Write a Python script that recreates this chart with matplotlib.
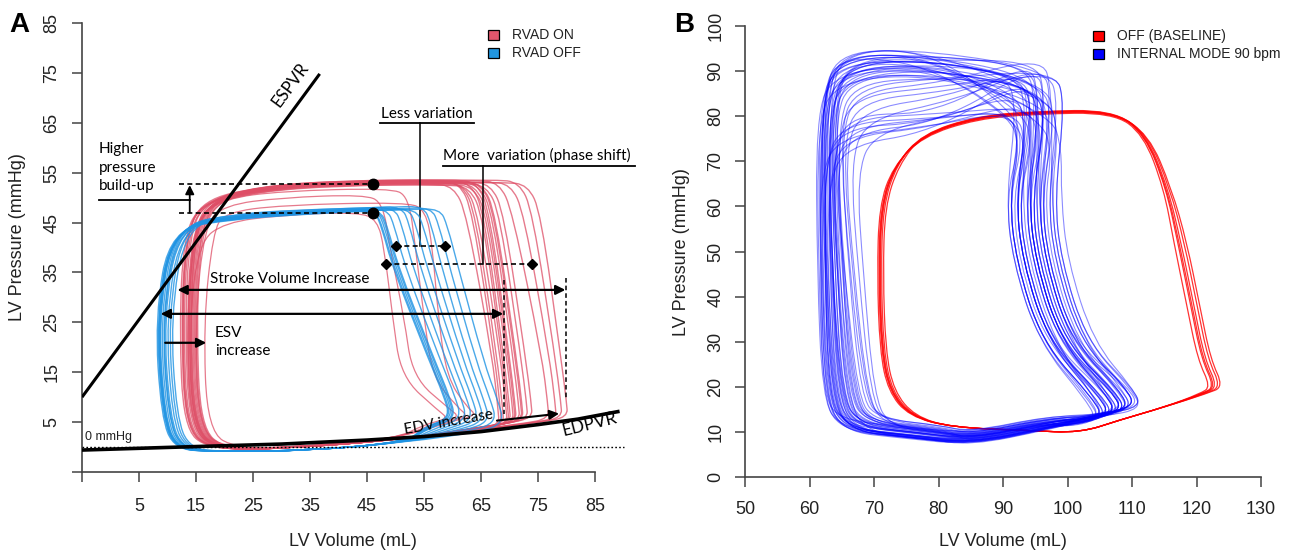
import numpy as np
import matplotlib
matplotlib.use('Agg')
import matplotlib.pyplot as plt
from matplotlib.path import Path
from matplotlib.patches import PathPatch, Rectangle

# ---------------- DATA ----------------
# Panel A ticks
a_xticks = [-5, 5, 15, 25, 35, 45, 55, 65, 75, 85]
a_xlabels = ['', '5', '15', '25', '35', '45', '55', '65', '75', '85']
a_yticks = [-5, 5, 15, 25, 35, 45, 55, 65, 75, 85]
a_ylabels = ['', '5', '15', '25', '35', '45', '55', '65', '75', '85']

# ESPVR straight line end points (volume, pressure)
espvr_v = [-5, 36.7]
espvr_p = [10, 74.8]
# EDPVR curve points
edpvr_v = [-5, 15, 30, 45, 55, 65, 75, 82, 89]
edpvr_p = [-0.6, 0.1, 0.6, 1.4, 2.1, 3.1, 4.5, 5.6, 7.1]

# RVAD ON loops: left side volume, top pressure, top-right volume, bottom-right volume, bottom-right pressure
on_L = [12.6, 13.0, 13.3, 13.6, 13.9, 14.2, 14.5, 14.8, 15.2, 13.1, 14.0, 15.6, 12.9, 14.4, 14.6, 15.0, 15.4, 14.2]
on_T = [52.6, 53.0, 52.8, 53.2, 52.5, 53.4, 52.9, 53.1, 52.7, 53.3, 52.4, 53.0, 52.8, 53.1, 53.3, 53.0, 53.4, 52.9]
on_R1 = [59.0, 60.5, 61.0, 62.0, 62.5, 63.0, 63.5, 64.0, 64.8, 60.0, 61.8, 65.5, 62.8, 63.8, 67.0, 69.0, 70.5, 72.0]
on_R2 = [67.8, 68.6, 69.2, 69.8, 70.3, 70.8, 71.4, 72.0, 72.8, 68.2, 69.5, 73.6, 70.6, 71.8, 76.5, 77.8, 78.8, 79.8]
on_B = [5.0, 5.2, 5.3, 5.5, 5.6, 5.8, 5.9, 6.0, 6.2, 5.1, 5.4, 6.4, 5.7, 6.0, 6.3, 6.4, 6.5, 6.6]

# RVAD ON loops with early ejection end (phase shift)
sh_L = [14.0, 15.0, 13.5, 16.5]
sh_T = [47.0, 50.5, 51.8, 49.0]
sh_R1 = [46.5, 47.5, 52.0, 55.0]
sh_Xm = [50.0, 52.0, 55.5, 58.0]
sh_R2 = [59.0, 61.0, 62.5, 64.0]
sh_B = [6.5, 6.8, 7.0, 7.2]

# RVAD OFF loops
off_L = [8.7, 9.0, 9.3, 9.6, 9.9, 10.2, 10.6, 11.0, 11.4, 9.2, 10.0, 8.9, 9.1]
off_T = [47.0, 47.2, 47.4, 47.6, 47.8, 47.5, 47.3, 47.9, 47.6, 47.1, 47.4, 46.9, 47.1]
off_R1 = [46.0, 47.0, 48.2, 49.5, 50.8, 52.0, 53.3, 54.6, 56.0, 46.5, 57.5, 46.2, 46.8]
off_R2 = [59.0, 60.0, 61.0, 62.0, 63.0, 64.0, 65.0, 66.0, 67.2, 59.5, 68.5, 59.2, 59.8]
off_B = [7.0, 6.9, 6.8, 6.7, 6.6, 6.5, 6.4, 6.3, 6.2, 7.0, 6.0, 7.0, 6.9]

# Panel B ticks
b_xticks = [50, 60, 70, 80, 90, 100, 110, 120, 130]
b_yticks = [0, 10, 20, 30, 40, 50, 60, 70, 80, 90, 100]

# OFF (BASELINE) loops: left side volume, end tip volume, top pressure
rb_L = [70.6, 70.9, 71.2, 71.5, 70.8, 71.0]
rb_R2 = [122.2, 122.8, 123.3, 123.8, 124.2, 123.0]
rb_T = [80.2, 80.5, 80.8, 80.6, 80.4, 80.7]

# INTERNAL MODE 90 bpm loops
bb_L = [61.2, 61.6, 62.0, 62.3, 62.6, 62.9, 63.2, 63.5, 63.8, 64.1, 64.5, 65.0, 65.6, 61.8, 62.4, 63.0, 63.6, 64.2, 62.1, 62.7,
        63.3, 63.9, 61.4, 62.2, 62.8, 63.4, 64.0, 64.8, 62.5, 63.1, 63.7, 61.9, 62.6, 63.2, 64.4, 62.0, 63.0, 63.8, 62.3, 65.3,
        66.5, 67.5, 62.0, 63.5]
bb_Lb = [62.0, 62.5, 63.5, 64.0, 63.0, 65.0, 64.5, 66.0, 65.5, 67.0, 66.5, 68.0, 69.0, 62.8, 63.6, 64.8, 65.8, 67.5, 62.6, 63.8,
         64.6, 66.2, 62.2, 63.2, 64.2, 65.2, 66.8, 68.5, 63.4, 64.4, 65.6, 62.4, 63.0, 64.0, 67.2, 62.9, 64.9, 66.4, 63.7, 68.8,
         69.5, 70.0, 62.1, 65.1]
bb_Tl = [88, 90, 91, 92, 89, 87, 93, 90, 88, 91, 86, 84, 80, 74, 76, 72, 78, 75, 92, 90,
         89, 91, 86, 88, 93, 90, 87, 85, 77, 74, 79, 90, 92, 88, 83, 91, 89, 76, 93, 82,
         78, 75, 92, 87]
bb_Tm = [91, 92, 93, 93, 90, 89, 94, 92, 90, 92, 88, 87, 84, 77, 78, 76, 80, 78, 93, 91,
         91, 93, 89, 90, 94, 92, 89, 88, 79, 77, 80, 92, 93, 91, 86, 93, 91, 79, 94, 85,
         83, 80, 91, 90]
bb_Tr = [84, 88, 80, 90, 85, 82, 89, 87, 78, 91, 86, 92, 88, 80, 84, 87, 81, 90, 86, 79,
         88, 90, 82, 85, 80, 86, 83, 89, 80, 82, 91, 87, 78, 84, 88, 88, 85, 80, 83, 89,
         90, 86, 79, 85]
bb_R1 = [92, 93, 94, 95, 96, 97, 98, 94, 93, 96, 95, 97, 91.5, 92, 93, 94, 95, 96, 97.5, 98.5,
         93.5, 94.5, 95.5, 96.5, 92.5, 97, 98, 99, 93, 94, 95, 96, 97, 93, 94, 95, 96, 92, 98, 99,
         97, 95, 92, 94]
bb_Rm = [91, 93, 92.5, 95.5, 94.5, 96, 97, 92.5, 92, 95, 93.5, 97.5, 90.5, 91, 92, 94, 93.5, 95.5, 96, 99,
         92, 94, 94, 96, 91, 95.5, 97.5, 98, 91.5, 92.5, 95, 94.5, 96.5, 92, 92, 94, 94.5, 90.5, 97, 98,
         95.5, 94, 91, 93.5]
bb_R2 = [104.5, 105, 106, 107, 108, 109, 110, 106, 105.5, 108.5, 107.5, 109.5, 104, 105, 106.5, 107, 108, 109, 110.5, 111,
         106, 107, 108, 109, 105, 109.5, 110, 111, 106, 107, 108, 108.5, 109, 105.5, 106.5, 107.5, 108.5, 104.5, 110, 111,
         110, 108, 105, 107]
bb_P2 = [13.5, 14, 14.5, 15, 15.5, 15, 16, 14, 13.5, 15, 14.5, 15.5, 13, 13.5, 14, 14.5, 15, 15.5, 16, 16,
         14, 14.5, 15, 15.5, 13.5, 15.5, 16, 16, 14, 14.5, 15, 15, 15.5, 13.5, 14, 14.5, 15, 13, 16, 15.5,
         16, 15, 13.5, 14.5]
bb_Bm = [9.5, 9, 8.8, 9.2, 10, 10.5, 9, 8.5, 9.8, 10.2, 11, 11.5, 10, 9.3, 8.7, 9.6, 10.4, 11, 8.6, 9.1,
         9.9, 10.7, 11.2, 9.4, 8.9, 10.1, 10.8, 11.4, 9.2, 9.7, 10.3, 8.8, 9.5, 10, 10.6, 9, 9.8, 10.5, 8.7, 11,
         10, 9.5, 9, 10.2]

# ---------------- FIGURE ----------------
W, H = 1294, 552
fig = plt.figure(figsize=(W / 100, H / 100), dpi=100)
TICKFONT = 'Liberation Sans'
NOTEFONT = 'Lato'
plt.rcParams['font.family'] = [TICKFONT, 'DejaVu Sans']


def fx(px):
    return px / W


def fy(py):
    return 1 - py / H


def smooth_loop(ax, verts, color, lw, alpha, z=2):
    v = np.asarray(verts, dtype=float)
    mids = (v + np.roll(v, -1, axis=0)) / 2
    pts = [mids[-1]]
    codes = [Path.MOVETO]
    for i in range(len(v)):
        pts += [v[i], mids[i]]
        codes += [Path.CURVE3, Path.CURVE3]
    ax.add_patch(PathPatch(Path(pts, codes), fill=False, ec=color, lw=lw, alpha=alpha, zorder=z))


def style(ax, xt, xl, yt, yl, xpad, ypad):
    for s in ['top', 'right']:
        ax.spines[s].set_visible(False)
    for s in ['left', 'bottom']:
        ax.spines[s].set_color('#444444')
        ax.spines[s].set_linewidth(1.2)
    ax.spines['left'].set_bounds(yt[0], yt[-1])
    ax.spines['bottom'].set_bounds(xt[0], xt[-1])
    ax.set_xticks(xt)
    ax.set_xticklabels(xl)
    ax.set_yticks(yt)
    ax.set_yticklabels(yl, rotation=90, va='center')
    ax.tick_params(axis='both', direction='out', length=7.5, width=1.1, color='#444444',
                   labelsize=13, labelcolor='#222222')
    ax.tick_params(axis='x', pad=xpad)
    ax.tick_params(axis='y', pad=ypad)
    ax.patch.set_visible(False)


# ---------- Panel A ----------
axA = fig.add_axes([fx(82), fy(472), (650 - 82) / W, (472 - 3) / H])
axA.set_xlim(-5, -5 + (650 - 82) / 5.7)
axA.set_ylim(-5, -5 + (472 - 3) / 4.989)
style(axA, a_xticks, a_xlabels, a_yticks, a_ylabels, 11, 8)

RED_A = '#DE4E66'
BLUE_A = '#1E93E3'


def on_verts(L, T, R1, R2, B):
    return [(R2 + 0.4, B - 0.6), (R2 + 0.2, B + 2.5), (R2 - 0.8, 18), (R1 + 3.5, T - 6),
            (R1 + 1.2, T - 0.3), (R1 - 3, T + 0.2), (40, T), (26, T - 1.2), (L + 3, T - 3.8),
            (L + 0.2, T - 11), (L - 0.5, 24), (L + 0.2, 4), (L + 4.5, -0.5), (30, -0.3),
            (50, 1.4), (R2 - 4, B - 1.6)]


def shift_verts(L, T, R1, Xm, R2, B):
    return [(R2 + 0.3, B - 0.8), (R2 - 1.5, B + 0.8), (Xm + 1.0, 14), (Xm - 0.5, 26),
            (R1 + 1.5, 40), (R1 + 0.3, T - 1.5), (R1 - 3, T + 0.1), (30, T - 0.5), (20, T - 2),
            (L + 1.5, T - 6), (L - 0.2, 25), (L + 0.5, 3), (L + 6, -0.4), (32, 0), (50, 1.6),
            (R2 - 4, B - 2)]


def off_verts(L, T, R1, R2, B):
    return [(R2 + 0.6, B - 1.2), (R2 - 0.6, B + 3.5), (R2 - 3.0, 17), (R1 + 3.5, 36),
            (R1 + 1.6, T - 3), (R1 + 0.3, T + 0.4), (R1 - 5, T + 0.2), (32, T - 0.4),
            (22, T - 1.2), (L + 1.8, T - 3.2), (L - 0.9, 26), (L + 0.2, 6), (L + 2.5, -0.4),
            (L + 9, -0.9), (35, -0.7), (52, 1.0), (R2 - 4, B - 3.0)]


for i in range(len(on_L)):
    smooth_loop(axA, on_verts(on_L[i], on_T[i], on_R1[i], on_R2[i], on_B[i]), RED_A, 1.0, 0.75)
for i in range(len(sh_L)):
    smooth_loop(axA, shift_verts(sh_L[i], sh_T[i], sh_R1[i], sh_Xm[i], sh_R2[i], sh_B[i]), RED_A, 0.9, 0.75)
for i in range(len(off_L)):
    smooth_loop(axA, off_verts(off_L[i], off_T[i], off_R1[i], off_R2[i], off_B[i]), BLUE_A, 1.0, 0.8, z=3)

# ESPVR / EDPVR / 0 mmHg
axA.plot(espvr_v, espvr_p, color='k', lw=2.2, zorder=5, solid_capstyle='butt')
axA.plot(edpvr_v, edpvr_p, color='k', lw=2.6, zorder=5)
axA.plot([-5, 90], [0, 0], color='k', lw=1.0, ls=(0, (1.2, 1.6)), zorder=4)
axA.text(-4.5, 0.9, '0 mmHg', fontsize=9, ha='left', va='bottom', color='#222222')
axA.text(31.6, 72.6, 'ESPVR', fontsize=12, rotation=53.6, ha='center', va='center', family=NOTEFONT)
axA.text(84.0, 4.6, 'EDPVR', fontsize=12.5, rotation=14, ha='center', va='center', family=NOTEFONT)

DASH = (0, (3, 2))
# Higher pressure build-up
axA.plot([12.1, 46], [52.65, 52.65], color='k', lw=1.2, ls=DASH, zorder=6)
axA.plot([12.1, 46], [47.0, 47.0], color='k', lw=1.2, ls=DASH, zorder=6)
axA.plot([46, 46], [52.65, 47.0], 'o', color='k', ms=7.5, zorder=7)
axA.plot([-2.0, 13.9], [49.6, 49.6], color='k', lw=1.3, zorder=6)
axA.annotate('', xy=(13.9, 52.5), xytext=(13.9, 47.0),
             arrowprops=dict(arrowstyle='-|>', lw=1.3, color='k', mutation_scale=13,
                             shrinkA=0, shrinkB=0), zorder=6)
axA.text(-2.1, 56.0, 'Higher\npressure\nbuild-up', fontsize=11, ha='left', va='center',
         linespacing=1.4, family=NOTEFONT)

# Less variation
axA.text(55.5, 66.7, 'Less variation', fontsize=11, ha='center', va='center', family=NOTEFONT)
axA.plot([47.2, 63.8], [64.9, 64.9], color='k', lw=1.3)
axA.plot([54.3, 54.3], [64.9, 40.2], color='k', lw=1.1)
axA.plot([50.1, 58.7], [40.2, 40.2], color='k', lw=1.2, ls=DASH, zorder=6)
axA.plot([50.1, 58.7], [40.2, 40.2], 'D', color='k', ms=5.5, zorder=7)

# More variation
axA.text(58.3, 58.5, 'More  variation (phase shift)', fontsize=11, ha='left', va='center',
         family=NOTEFONT)
axA.plot([58.3, 92.0], [56.3, 56.3], color='k', lw=1.3)
axA.plot([65.4, 65.4], [56.3, 36.6], color='k', lw=1.1)
axA.plot([48.4, 74.0], [36.6, 36.6], color='k', lw=1.2, ls=DASH, zorder=6)
axA.plot([48.4, 74.0], [36.6, 36.6], 'D', color='k', ms=5.5, zorder=7)

# Stroke volume increase arrows
axA.text(31.5, 33.6, 'Stroke Volume Increase', fontsize=11, ha='center', va='center',
         family=NOTEFONT)
axA.annotate('', xy=(11.75, 31.5), xytext=(79.8, 31.5),
             arrowprops=dict(arrowstyle='<|-|>', lw=1.6, color='k', mutation_scale=14,
                             shrinkA=0, shrinkB=0), zorder=6)
axA.annotate('', xy=(8.8, 26.7), xytext=(68.9, 26.7),
             arrowprops=dict(arrowstyle='<|-|>', lw=1.6, color='k', mutation_scale=14,
                             shrinkA=0, shrinkB=0), zorder=6)
axA.plot([79.9, 79.9], [33.8, 9.5], color='k', lw=1.1, ls=DASH, zorder=6)
axA.plot([69.1, 69.1], [33.4, 6.6], color='k', lw=1.1, ls=DASH, zorder=6)

# ESV increase
axA.text(18.3, 21.1, 'ESV\nincrease', fontsize=11, ha='left', va='center', linespacing=1.4,
         family=NOTEFONT)
axA.annotate('', xy=(16.8, 20.9), xytext=(9.6, 20.9),
             arrowprops=dict(arrowstyle='-|>', lw=1.6, color='k', mutation_scale=14,
                             shrinkA=0, shrinkB=0), zorder=6)

# EDV increase
axA.text(59.3, 5.0, 'EDV increase', fontsize=11, rotation=10, ha='center', va='center',
         family=NOTEFONT, zorder=8)
axA.annotate('', xy=(78.7, 6.7), xytext=(67.8, 5.3),
             arrowprops=dict(arrowstyle='-|>', lw=1.5, color='k', mutation_scale=14,
                             shrinkA=0, shrinkB=0), zorder=6)

# ---------- Panel B ----------
axB = fig.add_axes([fx(745), fy(477), (1292 - 745) / W, (477 - 3) / H])
axB.set_xlim(50, 50 + (1292 - 745) / 6.45)
axB.set_ylim(0, (477 - 3) / 4.51)
style(axB, b_xticks, [str(t) for t in b_xticks], b_yticks, [str(t) for t in b_yticks], 10, 7.5)


def rb_verts(L, R2, T):
    dr = R2 - 124
    return [(R2, 20), (122 + dr, 26), (120.3 + dr, 38), (118.3 + dr, 52), (116 + dr * 0.6, 64),
            (112.5 + dr * 0.4, 76), (107, T + 0.6), (95, T + 0.3), (86, T - 0.8), (77.5, T - 4.7),
            (L + 2.3, T - 11.5), (L + 0.2, 60), (L - 0.1, 45), (L + 0.3, 28), (L + 1.6, 19),
            (L + 4.8, 13.5), (82, 11), (94, 10.3), (102, 9.8), (108, 12.6), (115, 15.5),
            (121.5 + dr * 0.5, 18.5)]


def bb_verts(L, Lb, Tl, Tm, Tr, R1, Rm, R2, P2, Bm):
    return [(R2 + 0.4, P2 - 0.4), (R2 - 0.8, P2 + 3.5), (Rm + 5, 30), (Rm + 1, 48), (Rm, 62),
            (R1 + 0.6, Tr - 6), (R1 - 1, Tr + 1.2), (L + 16, Tm + 0.5), (L + 2.5, Tl + 1.5),
            (L - 0.2, Tl - 8), ((L + Lb) / 2 - 0.4, 45), (Lb, 18), (Lb + 2.5, Bm + 1.5),
            (Lb + 12, Bm), (85, Bm - 1.5), (97, Bm + 2), (R2 - 5, P2 - 2)]


for i in range(len(rb_L)):
    smooth_loop(axB, rb_verts(rb_L[i], rb_R2[i], rb_T[i]), '#FF0000', 0.9, 0.8, z=2)
for i in range(len(bb_L)):
    smooth_loop(axB, bb_verts(bb_L[i], bb_Lb[i], bb_Tl[i], bb_Tm[i], bb_Tr[i], bb_R1[i], bb_Rm[i],
                              bb_R2[i], bb_P2[i], bb_Bm[i]), '#0000FF', 0.8, 0.45, z=3)

# ---------- Labels, legends ----------
fig.text(fx(18), fy(237), 'LV Pressure (mmHg)', rotation=90, ha='center', va='center', fontsize=13,
         color='#222222')
fig.text(fx(353), fy(541), 'LV Volume (mL)', ha='center', va='center', fontsize=13, color='#222222')
fig.text(fx(681), fy(252), 'LV Pressure (mmHg)', rotation=90, ha='center', va='center', fontsize=13,
         color='#222222')
fig.text(fx(1003), fy(541), 'LV Volume (mL)', ha='center', va='center', fontsize=13, color='#222222')
fig.text(fx(19), fy(25), 'A', ha='center', va='center', fontsize=20, fontweight='bold')
fig.text(fx(684), fy(25), 'B', ha='center', va='center', fontsize=20, fontweight='bold')

legend_items = [
    (488, 35, '#E0566C', 'RVAD ON'), (488, 53, '#2196E0', 'RVAD OFF'),
    (1093, 36, '#FF0000', 'OFF (BASELINE)'), (1093, 54, '#0000FF', 'INTERNAL MODE 90 bpm'),
]
for px, py, c, lab in legend_items:
    fig.add_artist(Rectangle((fx(px), fy(py + 5)), 11 / W, 10 / H, transform=fig.transFigure,
                             fc=c, ec='k', lw=0.9))
    fig.text(fx(px + 24), fy(py), lab, ha='left', va='center', fontsize=10, color='#222222')

fig.savefig('out.png', dpi=100)
